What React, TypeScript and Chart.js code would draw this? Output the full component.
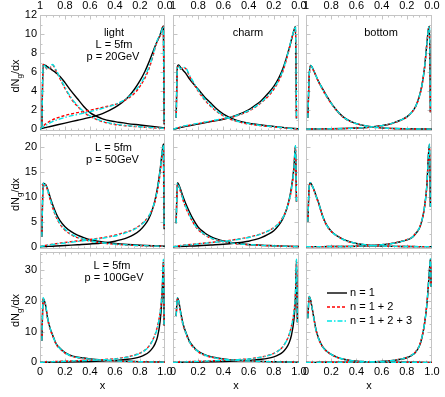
import React, { useEffect, useRef } from 'react';
import { Chart, registerables } from 'chart.js';

Chart.register(...registerables);

const W = 445;
const H = 397;
const FONT = '"Liberation Sans", Arial, Helvetica, sans-serif';
const FRAME = '#c4c4c4';

// x grids
const XL = [0.015, 0.025, 0.035, 0.045, 0.06, 0.08, 0.1, 0.13, 0.16, 0.2, 0.25, 0.3, 0.35, 0.4, 0.5, 0.6, 0.7, 0.8, 0.9, 1.0];
const XR = [0, 0.05, 0.1, 0.2, 0.3, 0.4, 0.5, 0.6, 0.65, 0.7, 0.75, 0.8, 0.84, 0.87, 0.9, 0.92, 0.94, 0.96, 0.972, 0.98, 0.987, 0.993];

// tick labels
const X_TICKS = [0, 0.2, 0.4, 0.6, 0.8, 1.0];
const X_TICK_LABELS = ['0', '0.2', '0.4', '0.6', '0.8', '1.0'];
const TOP_TICK_LABELS = ['1', '0.8', '0.6', '0.4', '0.2', '0.0'];
const Y_TICKS_P20 = [0, 2, 4, 6, 8, 10, 12];
const Y_TICKS_P50 = [0, 5, 10, 15, 20];
const Y_TICKS_P100 = [0, 10, 20, 30];
const LEGEND_LABELS = ['n = 1', 'n = 1 + 2', 'n = 1 + 2 + 3'];

// light, p = 20 GeV
const L20_L1 = [0.3, 6.8, 6.75, 6.7, 6.55, 6.4, 6.2, 5.9, 5.55, 4.9, 4.0, 3.2, 2.4, 1.75, 1.1, 0.8, 0.6, 0.45, 0.3, 0.15];
const L20_L12 = [0.3, 6.8, 6.7, 6.5, 6.3, 6.45, 6.75, 6.1, 5.3, 4.3, 3.2, 2.4, 1.8, 1.35, 0.8, 0.5, 0.35, 0.25, 0.15, 0.08];
const L20_L123 = [0.3, 6.8, 6.72, 6.55, 6.35, 6.5, 6.8, 6.2, 5.4, 4.4, 3.3, 2.5, 1.85, 1.4, 0.85, 0.55, 0.38, 0.27, 0.17, 0.1];
const L20_R1 = [0.05, 0.2, 0.35, 0.65, 0.95, 1.25, 1.65, 2.3, 2.75, 3.3, 4.1, 5.1, 6.1, 7.0, 8.0, 8.7, 9.3, 9.9, 10.4, 10.7, 10.8, 0.5];
const L20_R12 = [0.05, 0.6, 1.0, 1.45, 1.75, 2.0, 2.3, 2.6, 2.85, 3.2, 3.7, 4.5, 5.4, 6.3, 7.5, 8.5, 9.3, 9.8, 10.2, 10.6, 10.8, 0.5];
const L20_R123 = [0.05, 0.45, 0.8, 1.25, 1.55, 1.85, 2.2, 2.6, 2.9, 3.3, 3.9, 4.7, 5.6, 6.5, 7.6, 8.6, 9.4, 9.9, 10.3, 10.6, 10.8, 0.5];

// charm, p = 20 GeV
const C20_L1 = [null, 1.2, 6.6, 6.75, 6.5, 6.2, 5.9, 5.3, 4.8, 4.2, 3.4, 2.75, 2.1, 1.6, 0.95, 0.65, 0.45, 0.3, 0.15, 0.05];
const C20_L12 = [null, 1.2, 6.5, 6.6, 6.3, 6.45, 6.4, 5.6, 4.9, 4.0, 3.1, 2.4, 1.85, 1.4, 0.85, 0.55, 0.38, 0.25, 0.12, 0.04];
const C20_L123 = [null, 1.2, 6.55, 6.65, 6.35, 6.5, 6.45, 5.7, 5.0, 4.1, 3.2, 2.5, 1.9, 1.45, 0.9, 0.6, 0.4, 0.27, 0.13, 0.05];
const C20_R1 = [0, 0.15, 0.3, 0.55, 0.8, 1.05, 1.45, 2.05, 2.5, 3.0, 3.7, 4.5, 5.4, 6.3, 7.5, 8.4, 9.4, 10.4, 10.8, 1.1, null, null];
const C20_R12 = [0, 0.2, 0.35, 0.6, 0.85, 1.1, 1.4, 1.9, 2.3, 2.8, 3.4, 4.2, 5.1, 6.0, 7.3, 8.3, 9.4, 10.3, 10.7, 1.1, null, null];
const C20_R123 = [0, 0.22, 0.38, 0.62, 0.88, 1.12, 1.42, 1.95, 2.35, 2.85, 3.5, 4.3, 5.2, 6.1, 7.4, 8.4, 9.5, 10.4, 10.8, 1.1, null, null];

// bottom, p = 20 GeV
const B20_L1 = [1.2, 5.5, 6.7, 6.6, 6.2, 5.6, 5.0, 4.3, 3.6, 2.75, 1.9, 1.25, 0.85, 0.6, 0.3, 0.15, 0.08, 0.05, 0.03, 0.02];
const B20_L12 = [1.2, 5.4, 6.6, 6.55, 6.15, 5.55, 4.95, 4.2, 3.5, 2.7, 1.85, 1.2, 0.82, 0.58, 0.28, 0.14, 0.07, 0.04, 0.03, 0.02];
const B20_L123 = [1.2, 5.5, 6.7, 6.6, 6.2, 5.6, 5.0, 4.25, 3.55, 2.72, 1.88, 1.23, 0.84, 0.59, 0.29, 0.15, 0.08, 0.05, 0.03, 0.02];
const B20_R1 = [0.02, 0.03, 0.04, 0.05, 0.08, 0.13, 0.22, 0.38, 0.5, 0.7, 0.95, 1.3, 1.8, 2.4, 3.5, 4.6, 6.4, 9.1, 10.6, 10.8, 1.8, null];
const B20_R12 = [0.02, 0.03, 0.04, 0.05, 0.08, 0.13, 0.22, 0.37, 0.49, 0.68, 0.93, 1.28, 1.78, 2.38, 3.45, 4.55, 6.35, 9.0, 10.5, 10.7, 1.8, null];
const B20_R123 = [0.02, 0.03, 0.04, 0.05, 0.08, 0.13, 0.22, 0.38, 0.5, 0.7, 0.95, 1.3, 1.8, 2.4, 3.5, 4.6, 6.4, 9.1, 10.6, 10.8, 1.8, null];

// light, p = 50 GeV
const L50_L1 = [2.0, 12.7, 12.6, 12.4, 11.6, 10.0, 8.5, 6.6, 5.2, 4.0, 3.0, 2.3, 1.8, 1.4, 0.95, 0.65, 0.45, 0.3, 0.18, 0.1];
const L50_L12 = [2.0, 12.6, 12.2, 12.4, 11.3, 9.5, 7.9, 5.9, 4.5, 3.3, 2.4, 1.8, 1.4, 1.1, 0.72, 0.48, 0.32, 0.22, 0.14, 0.08];
const L50_L123 = [2.0, 12.7, 12.3, 12.5, 11.5, 9.7, 8.1, 6.1, 4.7, 3.5, 2.5, 1.9, 1.5, 1.15, 0.78, 0.52, 0.35, 0.24, 0.15, 0.09];
const L50_R1 = [0, 0.05, 0.1, 0.25, 0.4, 0.55, 0.75, 1.1, 1.4, 1.8, 2.4, 3.3, 4.4, 5.6, 7.5, 9.3, 11.8, 15.2, 17.8, 19.5, 20.5, 3.5];
const L50_R12 = [0, 0.3, 0.5, 0.85, 1.15, 1.45, 1.8, 2.3, 2.65, 3.0, 3.5, 4.3, 5.2, 6.1, 7.6, 9.0, 11.2, 14.5, 17.2, 19.0, 20.0, 3.5];
const L50_R123 = [0, 0.25, 0.45, 0.75, 1.05, 1.35, 1.7, 2.15, 2.5, 2.9, 3.4, 4.2, 5.1, 6.1, 7.7, 9.2, 11.5, 15.0, 17.8, 19.5, 20.3, 3.5];

// charm, p = 50 GeV
const C50_L1 = [null, 4.7, 12.8, 12.5, 11.5, 10.0, 8.7, 7.0, 5.5, 3.9, 2.8, 2.0, 1.5, 1.15, 0.7, 0.45, 0.3, 0.2, 0.1, 0.03];
const C50_L12 = [null, 4.7, 12.5, 12.0, 11.0, 9.3, 7.9, 6.2, 4.8, 3.4, 2.4, 1.7, 1.3, 1.0, 0.6, 0.4, 0.25, 0.15, 0.08, 0.03];
const C50_L123 = [null, 4.7, 12.7, 12.2, 11.2, 9.5, 8.1, 6.4, 4.9, 3.5, 2.5, 1.75, 1.35, 1.05, 0.63, 0.42, 0.27, 0.17, 0.09, 0.03];
const C50_R1 = [0, 0.05, 0.1, 0.2, 0.35, 0.5, 0.75, 1.1, 1.4, 1.8, 2.4, 3.2, 4.3, 5.5, 7.4, 9.2, 11.8, 16.0, 20.2, 9.0, null, null];
const C50_R12 = [0, 0.2, 0.35, 0.6, 0.85, 1.1, 1.45, 1.9, 2.2, 2.6, 3.1, 3.8, 4.7, 5.8, 7.4, 9.0, 11.4, 15.5, 19.8, 9.0, null, null];
const C50_R123 = [0, 0.18, 0.32, 0.55, 0.8, 1.05, 1.4, 1.85, 2.15, 2.55, 3.05, 3.75, 4.65, 5.7, 7.4, 9.1, 11.6, 15.8, 20.2, 9.0, null, null];

// bottom, p = 50 GeV
const B50_L1 = [5.0, 12.0, 12.8, 12.4, 11.6, 10.2, 8.8, 6.3, 4.5, 3.1, 2.1, 1.4, 0.95, 0.65, 0.3, 0.14, 0.07, 0.04, 0.02, 0.01];
const B50_L12 = [5.0, 11.8, 12.6, 12.3, 11.5, 10.0, 8.6, 6.2, 4.4, 3.05, 2.05, 1.37, 0.93, 0.64, 0.3, 0.14, 0.07, 0.04, 0.02, 0.01];
const B50_L123 = [5.0, 12.0, 12.8, 12.4, 11.6, 10.1, 8.7, 6.25, 4.45, 3.08, 2.08, 1.39, 0.94, 0.65, 0.3, 0.14, 0.07, 0.04, 0.02, 0.01];
const B50_R1 = [0.01, 0.01, 0.02, 0.03, 0.05, 0.1, 0.2, 0.38, 0.52, 0.72, 1.0, 1.35, 1.8, 2.6, 3.7, 5.2, 7.8, 12.5, 18.5, 20.5, 8.0, null];
const B50_R12 = [0.01, 0.01, 0.02, 0.03, 0.05, 0.1, 0.2, 0.4, 0.55, 0.76, 1.05, 1.42, 1.88, 2.7, 3.8, 5.3, 7.9, 12.4, 18.2, 20.2, 8.0, null];
const B50_R123 = [0.01, 0.01, 0.02, 0.03, 0.05, 0.1, 0.2, 0.39, 0.53, 0.74, 1.02, 1.38, 1.84, 2.65, 3.75, 5.25, 7.85, 12.5, 18.5, 20.5, 8.0, null];

// light, p = 100 GeV
const L100_L1 = [7.0, 20.8, 20.0, 18.5, 14.5, 11.2, 9.0, 6.0, 4.6, 3.2, 2.2, 1.7, 1.4, 1.15, 0.8, 0.55, 0.38, 0.25, 0.15, 0.08];
const L100_L12 = [7.0, 20.5, 19.3, 18.6, 14.3, 10.9, 8.7, 5.8, 4.4, 3.0, 2.0, 1.5, 1.2, 0.95, 0.65, 0.45, 0.3, 0.2, 0.12, 0.06];
const L100_L123 = [7.0, 21.0, 19.8, 18.8, 14.6, 11.1, 8.9, 5.9, 4.5, 3.1, 2.1, 1.6, 1.3, 1.05, 0.7, 0.48, 0.32, 0.21, 0.13, 0.07];
const L100_R1 = [0, 0.03, 0.06, 0.12, 0.2, 0.3, 0.45, 0.65, 0.8, 1.0, 1.3, 1.8, 2.5, 3.3, 4.6, 6.0, 8.3, 13.0, 18.5, 25.0, 32.5, 12.0];
const L100_R12 = [0, 0.15, 0.25, 0.4, 0.55, 0.7, 0.9, 1.2, 1.45, 1.8, 2.3, 3.0, 4.0, 5.2, 7.2, 9.0, 11.8, 16.0, 20.5, 26.0, 32.5, 12.0];
const L100_R123 = [0, 0.12, 0.2, 0.35, 0.5, 0.65, 0.85, 1.1, 1.35, 1.7, 2.2, 2.9, 3.9, 5.0, 7.0, 8.8, 11.5, 15.8, 20.5, 26.5, 33.5, 12.0];

// charm, p = 100 GeV
const C100_L1 = [null, 15.0, 21.0, 20.0, 16.5, 12.5, 10.0, 6.9, 5.2, 3.6, 2.5, 1.85, 1.45, 1.15, 0.75, 0.5, 0.33, 0.22, 0.12, 0.05];
const C100_L12 = [null, 15.0, 20.5, 19.3, 16.0, 12.0, 9.6, 6.6, 4.9, 3.4, 2.3, 1.7, 1.3, 1.0, 0.65, 0.43, 0.28, 0.18, 0.1, 0.04];
const C100_L123 = [null, 15.0, 21.0, 19.8, 16.3, 12.3, 9.8, 6.7, 5.0, 3.5, 2.4, 1.75, 1.35, 1.05, 0.68, 0.45, 0.3, 0.2, 0.11, 0.05];
const C100_R1 = [0, 0.03, 0.06, 0.12, 0.2, 0.3, 0.45, 0.65, 0.8, 1.0, 1.3, 1.8, 2.5, 3.3, 4.7, 6.2, 8.8, 14.0, 21.0, 32.5, 13.0, null];
const C100_R12 = [0, 0.12, 0.2, 0.35, 0.5, 0.65, 0.85, 1.15, 1.4, 1.75, 2.2, 2.9, 3.9, 5.0, 7.0, 8.8, 11.8, 16.5, 22.5, 33.0, 13.0, null];
const C100_R123 = [0, 0.1, 0.18, 0.32, 0.47, 0.62, 0.82, 1.1, 1.35, 1.7, 2.15, 2.85, 3.85, 4.95, 6.9, 8.7, 11.6, 16.3, 22.5, 33.5, 13.0, null];

// bottom, p = 100 GeV
const B100_L1 = [14.3, 21.4, 20.5, 18.5, 15.0, 10.5, 7.8, 5.2, 3.8, 2.6, 1.6, 1.0, 0.65, 0.42, 0.2, 0.1, 0.05, 0.03, 0.02, 0.01];
const B100_L12 = [14.3, 21.0, 20.2, 18.2, 14.7, 10.3, 7.6, 5.1, 3.7, 2.55, 1.55, 0.98, 0.63, 0.41, 0.2, 0.1, 0.05, 0.03, 0.02, 0.01];
const B100_L123 = [14.3, 21.4, 20.4, 18.4, 14.9, 10.4, 7.7, 5.15, 3.75, 2.58, 1.58, 0.99, 0.64, 0.42, 0.2, 0.1, 0.05, 0.03, 0.02, 0.01];
const B100_R1 = [0.01, 0.01, 0.02, 0.03, 0.05, 0.08, 0.15, 0.3, 0.45, 0.65, 1.0, 1.5, 2.3, 3.3, 5.3, 8.0, 12.3, 19.0, 25.5, 30.0, 33.5, 24.5];
const B100_R12 = [0.01, 0.01, 0.02, 0.03, 0.05, 0.09, 0.17, 0.33, 0.48, 0.7, 1.08, 1.6, 2.45, 3.5, 5.5, 8.2, 12.5, 19.2, 25.5, 29.8, 33.0, 24.5];
const B100_R123 = [0.01, 0.01, 0.02, 0.03, 0.05, 0.08, 0.16, 0.32, 0.47, 0.68, 1.05, 1.55, 2.4, 3.4, 5.4, 8.1, 12.4, 19.1, 25.6, 30.0, 33.6, 24.5];

// layout (pixel boxes of the nine panels)
const COL_BOX = [[40, 165], [173, 299], [306, 432]];
const ROW_BOX = [[15, 131], [134, 249], [252, 363]];
const Y_AXIS_W = 38;
const BOTTOM_AXIS_H = 20;
const TOP_AXIS_H = 14;
const ROW_Y = [
  { min: -0.18, max: 12, ticks: Y_TICKS_P20, minor: 1 },
  { min: -0.46, max: 22.54, ticks: Y_TICKS_P50, minor: 2.5 },
  { min: -0.2, max: 35.8, ticks: Y_TICKS_P100, minor: 2.5 },
];

const STYLES = [
  { color: '#000000', dash: [] as number[], width: 1.4 },
  { color: '#ff0000', dash: [3, 2], width: 1.4 },
  { color: '#00e6e6', dash: [5, 2, 1.5, 2], width: 1.4 },
];

type Note = { text: string; x: number; y: number };
type Panel = { row: number; col: number; l: (number | null)[][]; r: (number | null)[][]; notes: Note[] };

const PANELS: Panel[] = [
  { row: 0, col: 0, l: [L20_L1, L20_L12, L20_L123], r: [L20_R1, L20_R12, L20_R123],
    notes: [{ text: 'light', x: 114, y: 33 }, { text: 'L = 5fm', x: 114, y: 45 }, { text: 'p = 20GeV', x: 113, y: 56.5 }] },
  { row: 0, col: 1, l: [C20_L1, C20_L12, C20_L123], r: [C20_R1, C20_R12, C20_R123],
    notes: [{ text: 'charm', x: 248, y: 33 }] },
  { row: 0, col: 2, l: [B20_L1, B20_L12, B20_L123], r: [B20_R1, B20_R12, B20_R123],
    notes: [{ text: 'bottom', x: 381, y: 33 }] },
  { row: 1, col: 0, l: [L50_L1, L50_L12, L50_L123], r: [L50_R1, L50_R12, L50_R123],
    notes: [{ text: 'L = 5fm', x: 113.5, y: 148 }, { text: 'p = 50GeV', x: 112.5, y: 160 }] },
  { row: 1, col: 1, l: [C50_L1, C50_L12, C50_L123], r: [C50_R1, C50_R12, C50_R123], notes: [] },
  { row: 1, col: 2, l: [B50_L1, B50_L12, B50_L123], r: [B50_R1, B50_R12, B50_R123], notes: [] },
  { row: 2, col: 0, l: [L100_L1, L100_L12, L100_L123], r: [L100_R1, L100_R12, L100_R123],
    notes: [{ text: 'L = 5fm', x: 112, y: 266 }, { text: 'p = 100GeV', x: 114, y: 278 }] },
  { row: 2, col: 1, l: [C100_L1, C100_L12, C100_L123], r: [C100_R1, C100_R12, C100_R123], notes: [] },
  { row: 2, col: 2, l: [B100_L1, B100_L12, B100_L123], r: [B100_R1, B100_R12, B100_R123], notes: [] },
];

function toPoints(xs: number[], ys: (number | null)[]) {
  const pts: { x: number; y: number }[] = [];
  ys.forEach((y, i) => {
    if (y !== null && y !== undefined) pts.push({ x: xs[i], y });
  });
  return pts;
}

function drawYTitle(ctx: CanvasRenderingContext2D, cx: number, cy: number) {
  ctx.save();
  ctx.translate(cx, cy);
  ctx.rotate(-Math.PI / 2);
  ctx.fillStyle = '#000';
  ctx.textAlign = 'left';
  ctx.textBaseline = 'alphabetic';
  const big = `11px ${FONT}`;
  const small = `8px ${FONT}`;
  ctx.font = big;
  const w1 = ctx.measureText('dN').width;
  const w3 = ctx.measureText('/dx').width;
  ctx.font = small;
  const w2 = ctx.measureText('g').width;
  let x = -(w1 + w2 + w3) / 2;
  const base = 4;
  ctx.font = big;
  ctx.fillText('dN', x, base);
  x += w1;
  ctx.font = small;
  ctx.fillText('g', x, base + 2.5);
  x += w2;
  ctx.font = big;
  ctx.fillText('/dx', x, base);
  ctx.restore();
}

function makeChart(canvas: HTMLCanvasElement, p: Panel) {
  const [x0, x1] = COL_BOX[p.col];
  const [y0, y1] = ROW_BOX[p.row];
  const yInfo = ROW_Y[p.row];
  const showLeft = p.col === 0;
  const showBottom = p.row === 2;
  const showTop = p.row === 0;
  const datasets: any[] = [];
  for (let s = 2; s >= 0; s--) {
    const st = STYLES[s];
    for (const part of [toPoints(XL, p.l[s]), toPoints(XR, p.r[s])]) {
      datasets.push({
        data: part,
        borderColor: st.color,
        borderWidth: st.width,
        borderDash: st.dash,
        pointRadius: 0,
        fill: false,
        cubicInterpolationMode: 'monotone',
        xAxisID: 'x',
        yAxisID: 'y',
      });
    }
  }
  const tickFont = { family: FONT, size: 11 };
  const xAxis = (position: string, show: boolean, labels: string[], padding: number, h: number) => ({
    type: 'linear',
    position,
    min: 0,
    max: 1,
    display: show,
    grid: { display: false, drawTicks: false },
    border: { display: false },
    ticks: {
      font: tickFont,
      color: '#000',
      autoSkip: false,
      maxRotation: 0,
      minRotation: 0,
      padding,
      callback: (_v: any, i: number) => labels[i],
    },
    afterBuildTicks: (s: any) => {
      s.ticks = X_TICKS.map((v) => ({ value: v }));
    },
    afterFit: (s: any) => {
      s.height = show ? h : 0;
    },
  });

  const framePlugin = {
    id: 'frameTicks',
    beforeDatasetsDraw(chart: any) {
      const { ctx, chartArea: a } = chart;
      const xs = chart.scales.x;
      const ys = chart.scales.y;
      ctx.save();
      ctx.strokeStyle = FRAME;
      ctx.lineWidth = 1;
      const L = Math.round(a.left) + 0.5;
      const R = Math.round(a.right) - 0.5;
      const T = Math.round(a.top) + 0.5;
      const B = Math.round(a.bottom) - 0.5;
      ctx.strokeRect(L, T, R - L, B - T);
      ctx.beginPath();
      for (let k = 1; k < 20; k++) {
        const px = Math.round(xs.getPixelForValue(k / 20)) + 0.5;
        const len = k % 4 === 0 ? 4 : 2;
        ctx.moveTo(px, B);
        ctx.lineTo(px, B - len);
        ctx.moveTo(px, T);
        ctx.lineTo(px, T + len);
      }
      const nMinor = Math.floor(yInfo.max / yInfo.minor);
      for (let k = 1; k <= nMinor; k++) {
        const v = k * yInfo.minor;
        const py = Math.round(ys.getPixelForValue(v)) + 0.5;
        if (py <= T + 1) continue;
        const major = yInfo.ticks.some((t) => Math.abs(t - v) < 1e-6);
        const len = major ? 4 : 2;
        ctx.moveTo(L, py);
        ctx.lineTo(L + len, py);
        ctx.moveTo(R, py);
        ctx.lineTo(R - len, py);
      }
      ctx.stroke();
      ctx.restore();
    },
  };

  const textPlugin = {
    id: 'panelTexts',
    afterDraw(chart: any) {
      const ctx: CanvasRenderingContext2D = chart.ctx;
      ctx.save();
      ctx.fillStyle = '#000';
      ctx.font = `11px ${FONT}`;
      ctx.textAlign = 'center';
      ctx.textBaseline = 'middle';
      for (const n of p.notes) ctx.fillText(n.text, n.x, n.y);
      if (p.row === 2) ctx.fillText('x', (x0 + x1) / 2, 386);
      if (p.col === 0) drawYTitle(ctx, 15, (y0 + y1) / 2 + 3);
      if (p.row === 2 && p.col === 2) {
        const ly = [293, 307, 321];
        ctx.textAlign = 'left';
        for (let s = 0; s < 3; s++) {
          const st = STYLES[s];
          ctx.save();
          ctx.strokeStyle = st.color;
          ctx.lineWidth = st.width;
          ctx.setLineDash(st.dash);
          ctx.beginPath();
          ctx.moveTo(327, ly[s]);
          ctx.lineTo(347, ly[s]);
          ctx.stroke();
          ctx.restore();
          ctx.fillText(LEGEND_LABELS[s], 350, ly[s]);
        }
      }
      ctx.restore();
    },
  };

  return new Chart(canvas, {
    type: 'line',
    data: { datasets },
    options: {
      responsive: false,
      maintainAspectRatio: false,
      animation: false,
      events: [],
      layout: {
        padding: {
          left: x0 - (showLeft ? Y_AXIS_W : 0),
          right: W - x1,
          top: y0 - (showTop ? TOP_AXIS_H : 0),
          bottom: H - y1 - (showBottom ? BOTTOM_AXIS_H : 0),
        },
      },
      plugins: { legend: { display: false }, tooltip: { enabled: false } },
      scales: {
        x: xAxis('bottom', showBottom, X_TICK_LABELS, 2.5, BOTTOM_AXIS_H) as any,
        x2: xAxis('top', showTop, TOP_TICK_LABELS, 2, TOP_AXIS_H) as any,
        y: {
          type: 'linear',
          position: 'left',
          min: yInfo.min,
          max: yInfo.max,
          display: showLeft,
          grid: { display: false, drawTicks: false },
          border: { display: false },
          ticks: {
            font: tickFont,
            color: '#000',
            padding: 3,
            callback: (_v: any, i: number) => String(yInfo.ticks[i]),
          },
          afterBuildTicks: (s: any) => {
            s.ticks = yInfo.ticks.map((v) => ({ value: v }));
          },
          afterFit: (s: any) => {
            s.width = showLeft ? Y_AXIS_W : 0;
          },
        } as any,
      },
    },
    plugins: [framePlugin, textPlugin],
  } as any);
}

export default function App() {
  const refs = useRef<(HTMLCanvasElement | null)[]>([]);
  useEffect(() => {
    const charts = PANELS.map((p, i) => makeChart(refs.current[i] as HTMLCanvasElement, p));
    return () => charts.forEach((c) => c.destroy());
  }, []);
  return (
    <div style={{ position: 'fixed', left: 0, top: 0, width: W, height: H, background: '#fff' }}>
      {PANELS.map((_p, i) => (
        <canvas
          key={i}
          ref={(el) => {
            refs.current[i] = el;
          }}
          width={W}
          height={H}
          style={{ position: 'absolute', left: 0, top: 0, width: W, height: H }}
        />
      ))}
    </div>
  );
}
